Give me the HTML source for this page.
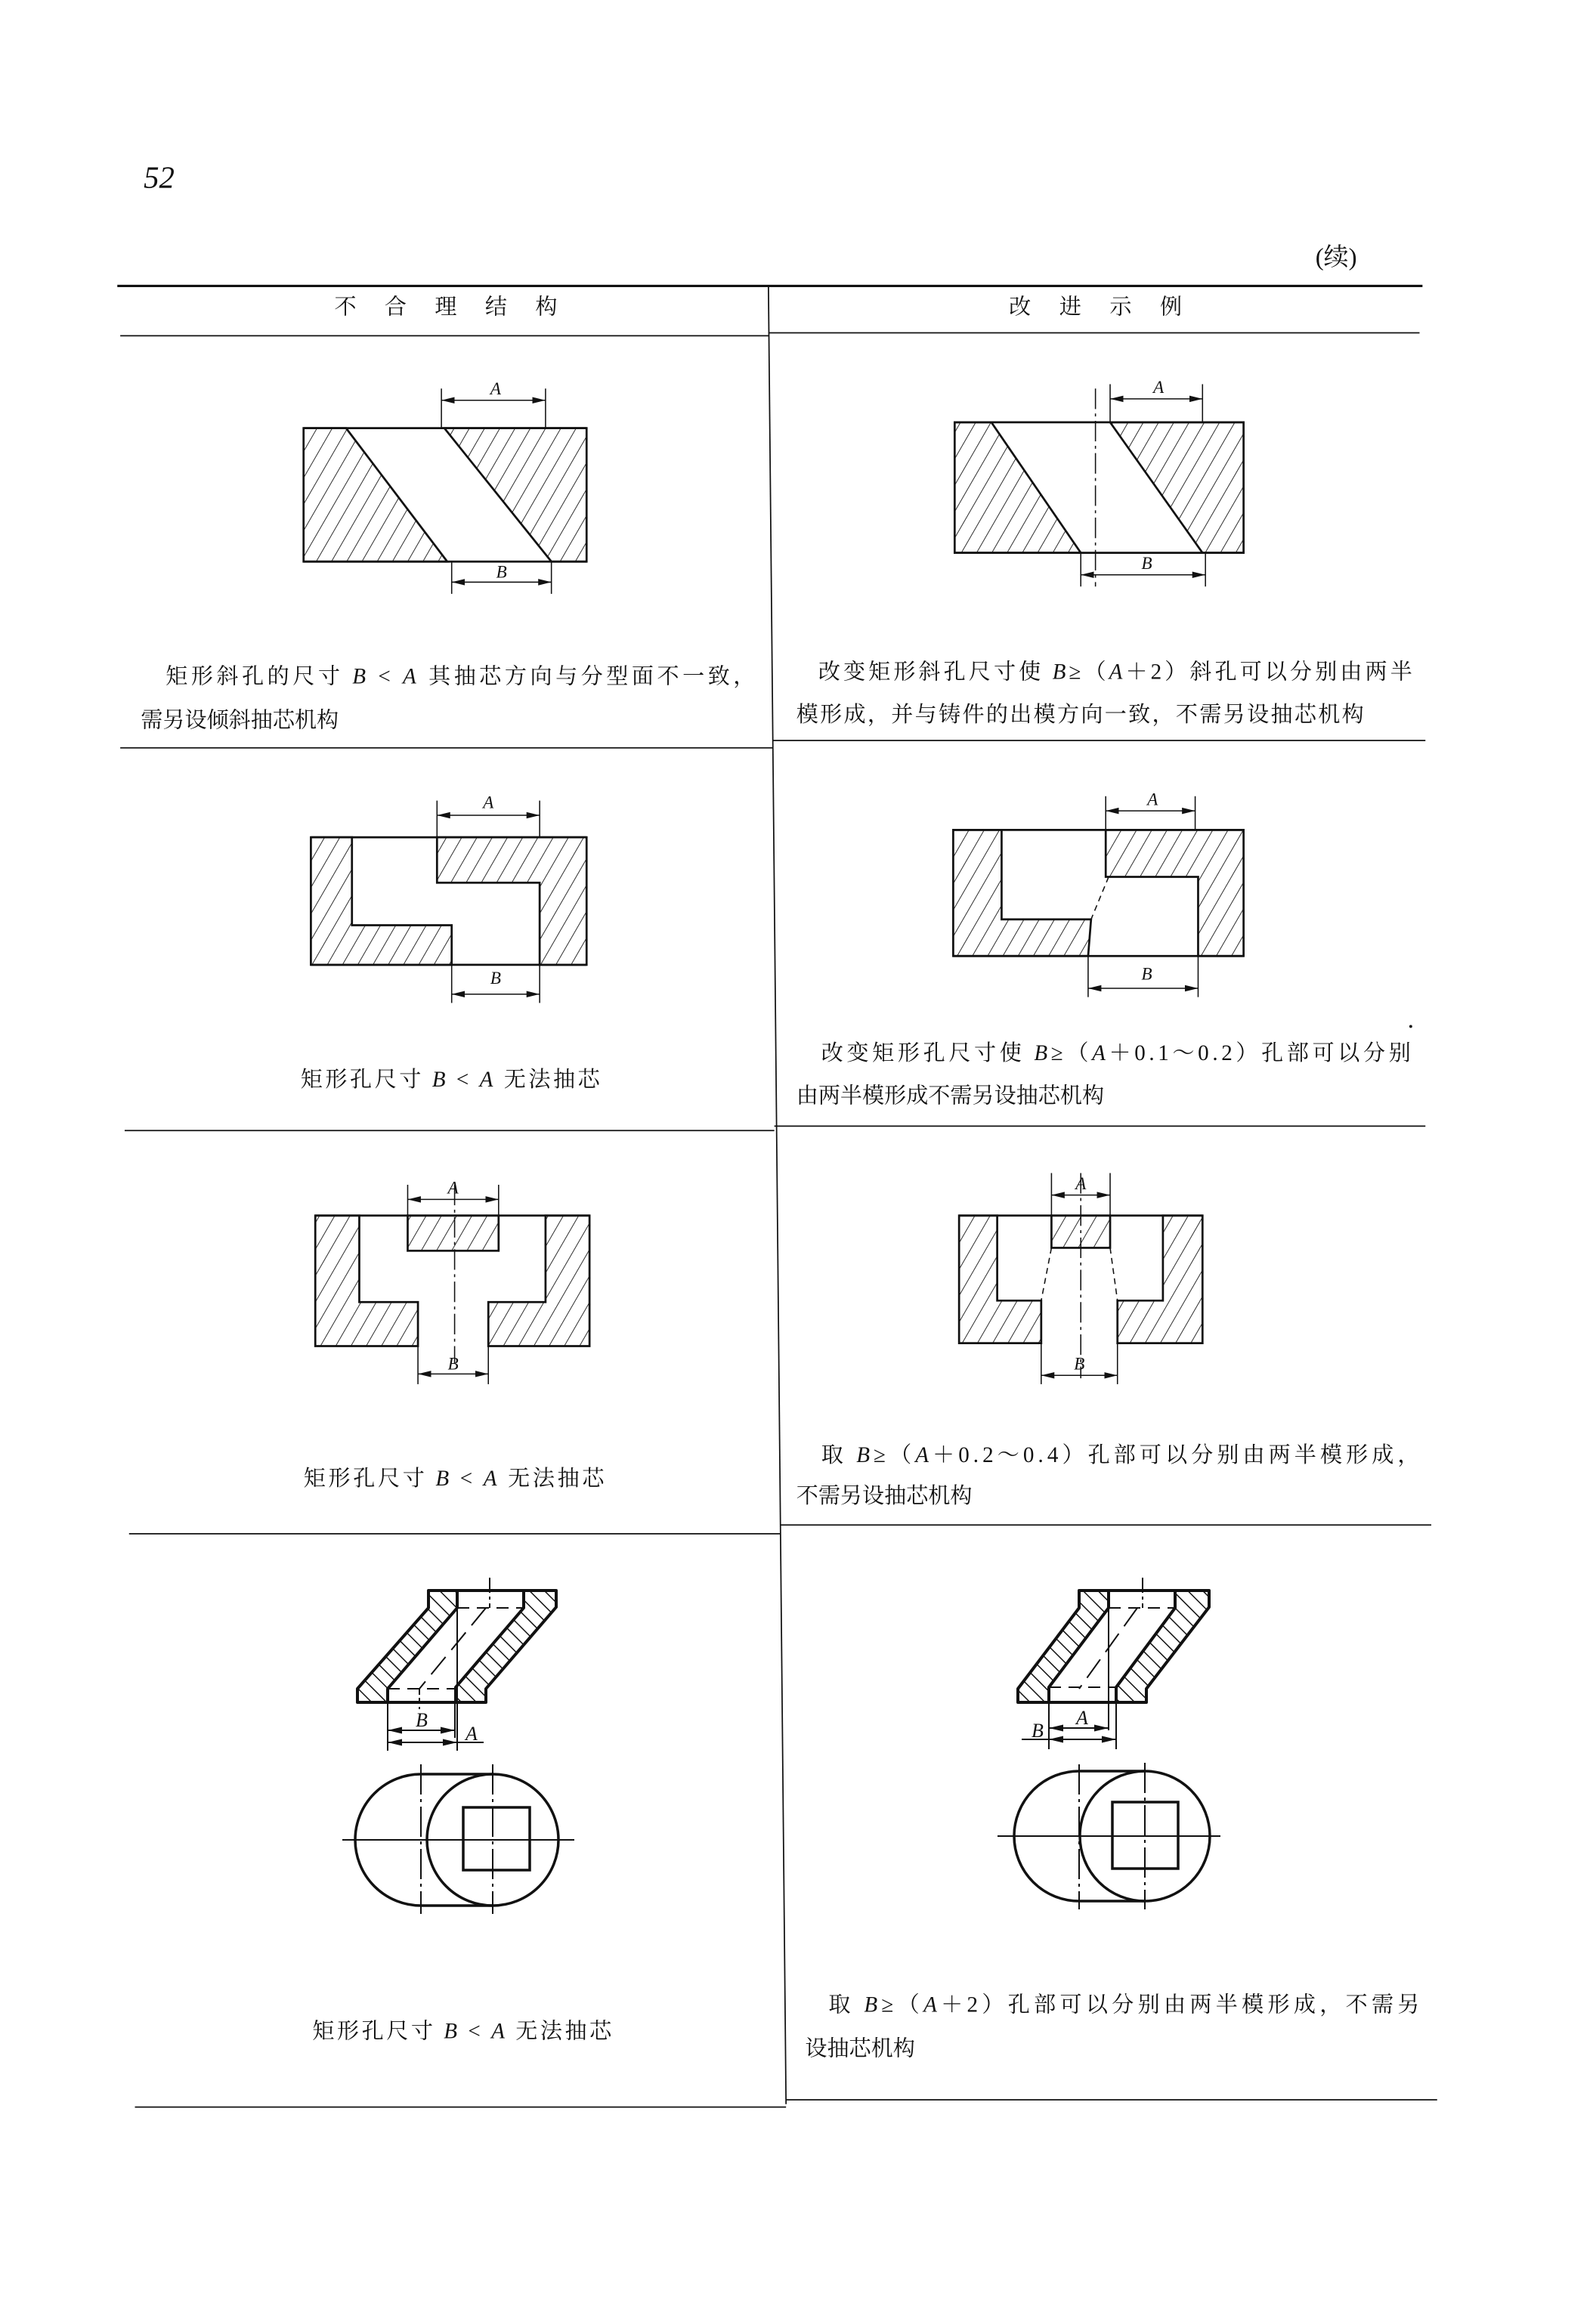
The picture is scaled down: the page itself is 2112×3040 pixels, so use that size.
<!DOCTYPE html>
<html><head><meta charset="utf-8"><style>
html,body{margin:0;padding:0;background:#fff;}
svg{display:block;}
text{font-family:"Liberation Serif","Noto Serif CJK SC","Noto Sans CJK SC",serif;fill:#111;}
</style></head><body>
<svg width="2112" height="3040" viewBox="0 0 2112 3040" xmlns="http://www.w3.org/2000/svg">
<defs>
<pattern id="h1" patternUnits="userSpaceOnUse" width="9" height="9" patternTransform="rotate(30)">
<line x1="0" y1="0" x2="0" y2="9" stroke="#111" stroke-width="0.9"/></pattern>
<pattern id="h2" patternUnits="userSpaceOnUse" width="14" height="14" patternTransform="rotate(-45)">
<line x1="0" y1="0" x2="0" y2="14" stroke="#111" stroke-width="3"/></pattern>
<marker id="a1" markerUnits="userSpaceOnUse" markerWidth="10" markerHeight="6" refX="9" refY="3" orient="auto-start-reverse"><path d="M0,0.8 L9,3 L0,5.2 Z" fill="#111"/></marker>
<marker id="a2" markerUnits="userSpaceOnUse" markerWidth="20" markerHeight="12" refX="19" refY="6" orient="auto-start-reverse"><path d="M0,1.5 L19,6 L0,10.5 Z" fill="#111"/></marker>
</defs>

<g transform="scale(1.9406)">
<g font-size="15">
<text x="98" y="128" font-size="21" font-style="italic">52</text>
<text x="897" y="181" font-size="17">(续)</text>
<text x="228" y="214" textLength="152">不 合 理 结 构</text>
<text x="688" y="214" textLength="118">改 进 示 例</text>
<text x="113" y="466" textLength="402">矩形斜孔的尺寸 <tspan font-style="italic">B</tspan> &lt; <tspan font-style="italic">A</tspan> 其抽芯方向与分型面不一致，</text>
<text x="96" y="496">需另设倾斜抽芯机构</text>
<text x="558" y="463" textLength="405">改变矩形斜孔尺寸使 <tspan font-style="italic">B</tspan>≥（<tspan font-style="italic">A</tspan>＋2）斜孔可以分别由两半</text>
<text x="543" y="492" textLength="387">模形成，并与铸件的出模方向一致，不需另设抽芯机构</text>
<text x="205" y="741" textLength="204">矩形孔尺寸 <tspan font-style="italic">B</tspan> &lt; <tspan font-style="italic">A</tspan> 无法抽芯</text>
<text x="560" y="723" textLength="402">改变矩形孔尺寸使 <tspan font-style="italic">B</tspan>≥（<tspan font-style="italic">A</tspan>＋0.1～0.2）孔部可以分别</text>
<text x="543" y="752">由两半模形成不需另设抽芯机构</text>
<text x="207" y="1013" textLength="205">矩形孔尺寸 <tspan font-style="italic">B</tspan> &lt; <tspan font-style="italic">A</tspan> 无法抽芯</text>
<text x="560" y="997" textLength="408">取 <tspan font-style="italic">B</tspan>≥（<tspan font-style="italic">A</tspan>＋0.2～0.4）孔部可以分别由两半模形成，</text>
<text x="543" y="1025">不需另设抽芯机构</text>
<text x="213" y="1390" textLength="204">矩形孔尺寸 <tspan font-style="italic">B</tspan> &lt; <tspan font-style="italic">A</tspan> 无法抽芯</text>
<text x="565" y="1372" textLength="403">取 <tspan font-style="italic">B</tspan>≥（<tspan font-style="italic">A</tspan>＋2）孔部可以分别由两半模形成，不需另</text>
<text x="549" y="1402">设抽芯机构</text>
</g>
<circle cx="962" cy="700" r="1" fill="#111"/>

<g stroke="#111" fill="none">
<line x1="80" y1="195" x2="970" y2="195" stroke-width="1.6"/>
<line x1="524" y1="195" x2="536" y2="1435" stroke-width="0.9"/>
<g stroke-width="0.9">
<line x1="82" y1="229" x2="524" y2="229"/><line x1="524" y1="227" x2="968" y2="227"/>
<line x1="82" y1="510" x2="527" y2="510"/><line x1="527" y1="505" x2="972" y2="505"/>
<line x1="85" y1="771" x2="528" y2="771"/><line x1="528" y1="768" x2="972" y2="768"/>
<line x1="88" y1="1046" x2="532" y2="1046"/><line x1="532" y1="1040" x2="976" y2="1040"/>
<line x1="92" y1="1437" x2="536" y2="1437"/><line x1="536" y1="1432" x2="980" y2="1432"/>
</g>
</g>

<g stroke="#111" stroke-width="1.4" stroke-linejoin="miter">
<polygon points="207,292 236,292 305,383 207,383" fill="url(#h1)"/>
<polygon points="303,292 400,292 400,383 376,383" fill="url(#h1)"/>
<line x1="207" y1="292" x2="400" y2="292"/><line x1="207" y1="383" x2="400" y2="383"/>
<polygon points="651,288 676,288 737,377 651,377" fill="url(#h1)"/>
<polygon points="757,288 848,288 848,377 820,377" fill="url(#h1)"/>
<line x1="651" y1="288" x2="848" y2="288"/><line x1="651" y1="377" x2="848" y2="377"/>
<polygon points="212,571 240,571 240,631 308,631 308,658 212,658" fill="url(#h1)"/>
<polygon points="298,571 400,571 400,658 368,658 368,602 298,602" fill="url(#h1)"/>
<line x1="212" y1="571" x2="400" y2="571"/><line x1="212" y1="658" x2="400" y2="658"/>
<polygon points="650,566 683,566 683,627 744,627 742,652 650,652" fill="url(#h1)"/>
<polygon points="754,566 848,566 848,652 817,652 817,598 754,598" fill="url(#h1)"/>
<line x1="650" y1="566" x2="848" y2="566"/><line x1="650" y1="652" x2="848" y2="652"/>
<polygon points="215,829 245,829 245,888 285,888 285,918 215,918" fill="url(#h1)"/>
<polygon points="372,829 402,829 402,918 333,918 333,888 372,888" fill="url(#h1)"/>
<rect x="278" y="829" width="62" height="24" fill="url(#h1)"/>
<line x1="215" y1="829" x2="402" y2="829"/>
<polygon points="654,829 680,829 680,887 710,887 710,916 654,916" fill="url(#h1)"/>
<polygon points="793,829 820,829 820,916 762,916 762,887 793,887" fill="url(#h1)"/>
<rect x="717" y="829" width="40" height="22" fill="url(#h1)"/>
<line x1="654" y1="829" x2="820" y2="829"/>
</g>

<g stroke="#111" stroke-width="0.8" fill="none">
<line x1="747" y1="265" x2="747" y2="400" stroke-dasharray="14,3,2,3"/>
<line x1="756" y1="598" x2="744" y2="627" stroke-dasharray="4,3"/>
<line x1="310" y1="808" x2="310" y2="930" stroke-dasharray="14,3,2,3"/>
<line x1="737" y1="800" x2="737" y2="940" stroke-dasharray="14,3,2,3"/>
<line x1="717" y1="851" x2="710" y2="887" stroke-dasharray="4,3"/>
<line x1="757" y1="851" x2="762" y2="887" stroke-dasharray="4,3"/>
<line x1="301" y1="265" x2="301" y2="292"/><line x1="372" y1="265" x2="372" y2="292"/>
<line x1="308" y1="383" x2="308" y2="405"/><line x1="376" y1="383" x2="376" y2="405"/>
<line x1="757" y1="262" x2="757" y2="288"/><line x1="820" y1="262" x2="820" y2="288"/>
<line x1="737" y1="377" x2="737" y2="400"/><line x1="822" y1="377" x2="822" y2="400"/>
<line x1="298" y1="546" x2="298" y2="571"/><line x1="368" y1="546" x2="368" y2="571"/>
<line x1="308" y1="658" x2="308" y2="684"/><line x1="368" y1="658" x2="368" y2="684"/>
<line x1="754" y1="543" x2="754" y2="566"/><line x1="815" y1="543" x2="815" y2="566"/>
<line x1="742" y1="652" x2="742" y2="680"/><line x1="817" y1="652" x2="817" y2="680"/>
<line x1="278" y1="808" x2="278" y2="829"/><line x1="340" y1="808" x2="340" y2="829"/>
<line x1="285" y1="918" x2="285" y2="944"/><line x1="333" y1="918" x2="333" y2="944"/>
<line x1="717" y1="800" x2="717" y2="829"/><line x1="757" y1="800" x2="757" y2="829"/>
<line x1="710" y1="916" x2="710" y2="944"/><line x1="762" y1="916" x2="762" y2="944"/>
<g marker-start="url(#a1)" marker-end="url(#a1)">
<line x1="301" y1="273" x2="372" y2="273"/><line x1="308" y1="397" x2="376" y2="397"/>
<line x1="757" y1="272" x2="820" y2="272"/><line x1="737" y1="392" x2="822" y2="392"/>
<line x1="298" y1="556" x2="368" y2="556"/><line x1="308" y1="678" x2="368" y2="678"/>
<line x1="754" y1="553" x2="815" y2="553"/><line x1="742" y1="674" x2="817" y2="674"/>
<line x1="278" y1="818" x2="340" y2="818"/><line x1="285" y1="937" x2="333" y2="937"/>
<line x1="717" y1="815" x2="757" y2="815"/><line x1="710" y1="938" x2="762" y2="938"/>
</g>
</g>
<g font-size="12" font-style="italic" text-anchor="middle">
<text x="338" y="269">A</text><text x="342" y="394">B</text>
<text x="790" y="268">A</text><text x="782" y="388">B</text>
<text x="333" y="551">A</text><text x="338" y="671">B</text>
<text x="786" y="549">A</text><text x="782" y="668">B</text>
<text x="309" y="814">A</text><text x="309" y="934">B</text>
<text x="737" y="811">A</text><text x="736" y="934">B</text>
</g>
</g>

<g stroke="#111" stroke-width="4" stroke-linejoin="round">
<polygon points="567,2105 605,2105 605,2128 513,2235 513,2253 473,2253 473,2235 567,2128" fill="url(#h2)"/>
<polygon points="693,2105 736,2105 736,2127 643,2235 643,2253 603,2253 603,2233 693,2128" fill="url(#h2)"/>
<line x1="567" y1="2105" x2="736" y2="2105"/><line x1="473" y1="2253" x2="643" y2="2253"/>
<polygon points="1428,2105 1467,2105 1467,2128 1388,2233 1388,2253 1347,2253 1347,2235 1428,2128" fill="url(#h2)"/>
<polygon points="1555,2105 1600,2105 1600,2127 1517,2235 1517,2253 1477,2253 1477,2233 1555,2128" fill="url(#h2)"/>
<line x1="1428" y1="2105" x2="1600" y2="2105"/><line x1="1347" y1="2253" x2="1517" y2="2253"/>
</g>
<g stroke="#111" stroke-width="2" fill="none">
<line x1="605" y1="2128" x2="693" y2="2128" stroke-dasharray="16,10"/>
<line x1="513" y1="2235" x2="603" y2="2235" stroke-dasharray="16,10"/>
<line x1="643" y1="2128" x2="555" y2="2235" stroke-dasharray="30,12"/>
<line x1="605" y1="2128" x2="605" y2="2317"/>
<line x1="648" y1="2088" x2="648" y2="2128" stroke-dasharray="20,5,4,5"/>
<line x1="555" y1="2235" x2="555" y2="2262" stroke-dasharray="8,4"/>
<line x1="513" y1="2253" x2="513" y2="2317"/><line x1="602" y1="2253" x2="602" y2="2300"/>
<line x1="605" y1="2306" x2="640" y2="2306"/>
<line x1="1467" y1="2128" x2="1555" y2="2128" stroke-dasharray="16,10"/>
<line x1="1388" y1="2233" x2="1477" y2="2233" stroke-dasharray="16,10"/>
<line x1="1505" y1="2128" x2="1428" y2="2235" stroke-dasharray="30,12"/>
<line x1="1467" y1="2105" x2="1467" y2="2290"/>
<line x1="1512" y1="2088" x2="1512" y2="2128" stroke-dasharray="20,5,4,5"/>
<line x1="1477" y1="2253" x2="1477" y2="2315"/><line x1="1388" y1="2253" x2="1388" y2="2315"/>
<line x1="1352" y1="2302" x2="1388" y2="2302"/>
<g marker-start="url(#a2)" marker-end="url(#a2)">
<line x1="513" y1="2290" x2="602" y2="2290"/><line x1="513" y1="2306" x2="605" y2="2306"/>
<line x1="1388" y1="2287" x2="1467" y2="2287"/><line x1="1388" y1="2302" x2="1477" y2="2302"/>
</g>
<g stroke-width="3.5">
<path d="M557,2348 A87,87 0 0 0 557,2522 L652,2522 M557,2348 L652,2348"/>
<circle cx="652" cy="2435" r="87"/>
<rect x="613" y="2392" width="88" height="83"/>
<path d="M1428,2344 A86,86 0 0 0 1428,2516 L1515,2516 M1428,2344 L1515,2344"/>
<circle cx="1515" cy="2430" r="86"/>
<rect x="1472" y="2385" width="87" height="88"/>
</g>
<line x1="453" y1="2435" x2="760" y2="2435"/>
<line x1="557" y1="2335" x2="557" y2="2533" stroke-dasharray="40,6,4,6"/>
<line x1="652" y1="2335" x2="652" y2="2533" stroke-dasharray="40,6,4,6"/>
<line x1="1320" y1="2430" x2="1615" y2="2430"/>
<line x1="1428" y1="2335" x2="1428" y2="2527" stroke-dasharray="40,6,4,6"/>
<line x1="1515" y1="2333" x2="1515" y2="2527" stroke-dasharray="40,6,4,6"/>
</g>
<g font-size="26" font-style="italic" text-anchor="middle">
<text x="558" y="2285">B</text><text x="624" y="2303">A</text>
<text x="1432" y="2282">A</text><text x="1373" y="2299">B</text>
</g>
</svg>
</body></html>
